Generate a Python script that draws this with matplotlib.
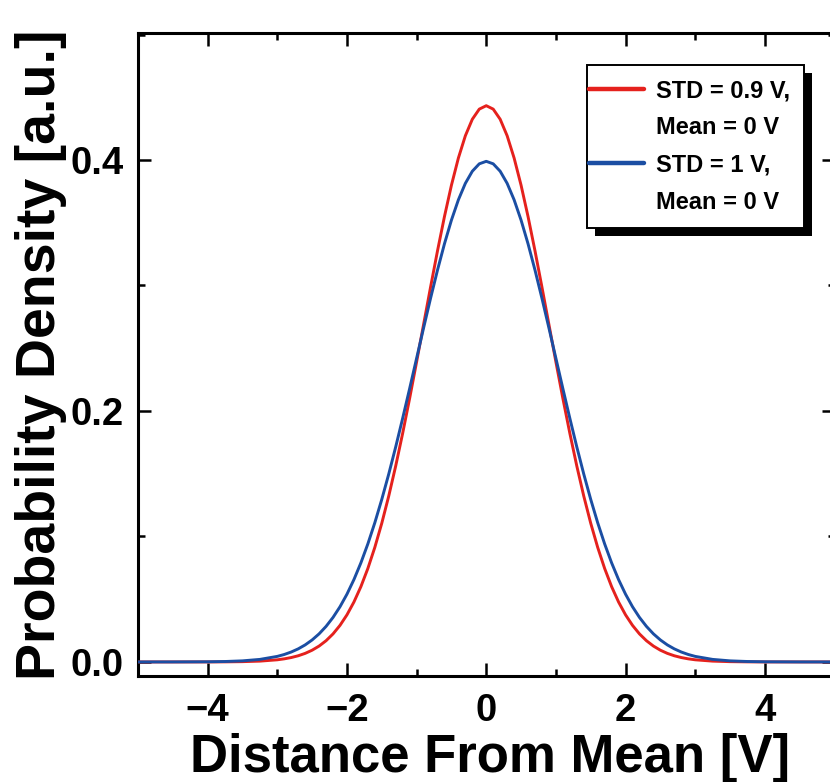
import matplotlib
matplotlib.use("Agg")
import matplotlib.pyplot as plt
from matplotlib.lines import Line2D
from matplotlib.legend_handler import HandlerLine2D
from matplotlib.patches import Rectangle
from matplotlib.ticker import MultipleLocator, FormatStrFormatter

# distance from mean [V], sampled along the curves
x = [-5.0, -4.5, -4.0, -3.75, -3.5, -3.25,
     -3.0, -2.9, -2.8, -2.7, -2.6, -2.5, -2.4, -2.3, -2.2, -2.1,
     -2.0, -1.9, -1.8, -1.7, -1.6, -1.5, -1.4, -1.3, -1.2, -1.1,
     -1.0, -0.9, -0.8, -0.7, -0.6, -0.5, -0.4, -0.3, -0.2, -0.1,
     0.0,
     0.1, 0.2, 0.3, 0.4, 0.5, 0.6, 0.7, 0.8, 0.9, 1.0,
     1.1, 1.2, 1.3, 1.4, 1.5, 1.6, 1.7, 1.8, 1.9, 2.0,
     2.1, 2.2, 2.3, 2.4, 2.5, 2.6, 2.7, 2.8, 2.9, 3.0,
     3.25, 3.5, 3.75, 4.0, 4.5, 5.0]

# STD = 0.9 V curve
pdf_std09 = [0.00000, 0.00000, 0.00002, 0.00007, 0.00023, 0.00065,
             0.00171, 0.00247, 0.00351, 0.00492, 0.00683, 0.00936, 0.01266, 0.01692, 0.02234, 0.02914,
             0.03753, 0.04774, 0.05999, 0.07446, 0.09129, 0.11053, 0.13220, 0.15617, 0.18223, 0.21003,
             0.23910, 0.26886, 0.29860, 0.32757, 0.35494, 0.37988, 0.40158, 0.41931, 0.43246, 0.44054,
             0.44327,
             0.44054, 0.43246, 0.41931, 0.40158, 0.37988, 0.35494, 0.32757, 0.29860, 0.26886, 0.23910,
             0.21003, 0.18223, 0.15617, 0.13220, 0.11053, 0.09129, 0.07446, 0.05999, 0.04774, 0.03753,
             0.02914, 0.02234, 0.01692, 0.01266, 0.00936, 0.00683, 0.00492, 0.00351, 0.00247, 0.00171,
             0.00065, 0.00023, 0.00007, 0.00002, 0.00000, 0.00000]

# STD = 1 V curve
pdf_std10 = [0.00000, 0.00002, 0.00013, 0.00035, 0.00087, 0.00203,
             0.00443, 0.00595, 0.00792, 0.01042, 0.01358, 0.01753, 0.02239, 0.02833, 0.03547, 0.04398,
             0.05399, 0.06562, 0.07895, 0.09405, 0.11092, 0.12952, 0.14973, 0.17137, 0.19419, 0.21785,
             0.24197, 0.26609, 0.28969, 0.31225, 0.33322, 0.35207, 0.36827, 0.38139, 0.39104, 0.39695,
             0.39894,
             0.39695, 0.39104, 0.38139, 0.36827, 0.35207, 0.33322, 0.31225, 0.28969, 0.26609, 0.24197,
             0.21785, 0.19419, 0.17137, 0.14973, 0.12952, 0.11092, 0.09405, 0.07895, 0.06562, 0.05399,
             0.04398, 0.03547, 0.02833, 0.02239, 0.01753, 0.01358, 0.01042, 0.00792, 0.00595, 0.00443,
             0.00203, 0.00087, 0.00035, 0.00013, 0.00002, 0.00000]

labels = ["STD = 0.9 V,", "Mean = 0 V", "STD = 1 V,", "Mean = 0 V"]

RED = "#e5211d"
BLUE = "#1b4ea3"

plt.rcParams["font.family"] = ["Liberation Sans", "DejaVu Sans"]
plt.rcParams["font.weight"] = "bold"


class LeftLine(HandlerLine2D):
    # legend line starting almost at the frame edge
    def create_artists(self, legend, orig_handle, xdescent, ydescent,
                       width, height, fontsize, trans):
        shift = 0.5 * fontsize
        return super().create_artists(legend, orig_handle, xdescent + shift, ydescent,
                                      width + shift, height, fontsize, trans)


fig = plt.figure(figsize=(8.3, 7.82), dpi=100)
ax = fig.add_axes([138 / 830, 106 / 782, 696.5 / 830, 643 / 782])

ax.plot(x, pdf_std09, color=RED, lw=2.1, zorder=3)
ax.plot(x, pdf_std10, color=BLUE, lw=2.1, zorder=3)

ax.set_xlim(-5, 5)
ax.set_ylim(-0.0112, 0.5012)
ax.xaxis.set_major_locator(MultipleLocator(2))
ax.xaxis.set_minor_locator(MultipleLocator(1))
ax.yaxis.set_major_locator(MultipleLocator(0.2))
ax.yaxis.set_minor_locator(MultipleLocator(0.1))
ax.yaxis.set_major_formatter(FormatStrFormatter("%.1f"))

for s in ax.spines.values():
    s.set_linewidth(2.2)
ax.tick_params(which="both", direction="in", top=True, right=True, width=1.8)
ax.tick_params(which="major", length=9.4, labelsize=27.5)
ax.tick_params(which="minor", length=5)
ax.tick_params(axis="y", pad=10)
ax.tick_params(axis="x", pad=12)

fig.text(490 / 830, 10 / 782, "Distance From Mean [V]", ha="center", va="baseline",
         fontsize=38, fontweight="bold")
fig.text(41 / 830, 1 - 355 / 782, "Probability Density [a.u.]", rotation=90,
         ha="center", va="center", fontsize=40, fontweight="bold")

handles = [Line2D([], [], color=RED, lw=3.2, solid_capstyle="round"),
           Line2D([], [], color="none"),
           Line2D([], [], color=BLUE, lw=3.2, solid_capstyle="round"),
           Line2D([], [], color="none")]
leg = ax.legend(handles, labels, loc="upper left",
                bbox_to_anchor=(587 / 830, 1 - 65 / 782), bbox_transform=fig.transFigure,
                prop={"weight": "bold", "size": 17},
                frameon=True, fancybox=False, borderpad=0.6, labelspacing=0.6,
                handlelength=1.82, handletextpad=0.5, borderaxespad=0,
                handler_map={Line2D: LeftLine()})
leg.get_frame().set_edgecolor("black")
leg.get_frame().set_linewidth(1.4)
leg.get_frame().set_alpha(1)

# solid black drop shadow behind the legend box
fig.canvas.draw()
bb = leg.get_window_extent().transformed(ax.transAxes.inverted())
dx = 8 / ax.bbox.width
dy = 8 / ax.bbox.height
ax.add_patch(Rectangle((bb.x0 + dx, bb.y0 - dy), bb.width, bb.height,
                       transform=ax.transAxes, facecolor="black", edgecolor="none",
                       zorder=4.9, clip_on=False))

fig.savefig("out.png", dpi=100)
